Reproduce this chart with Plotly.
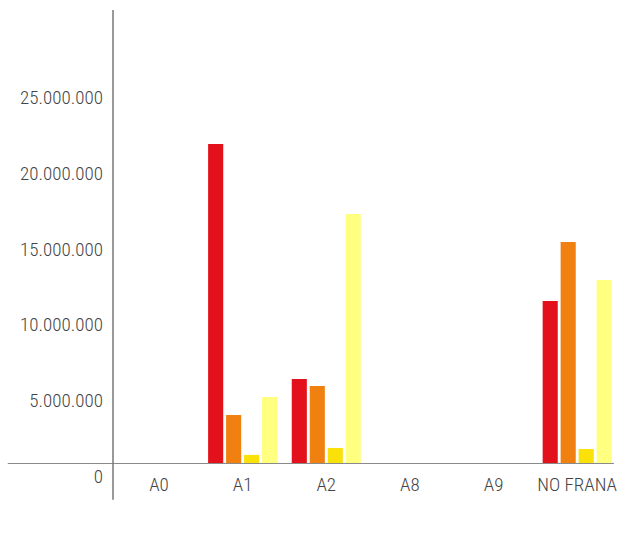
import plotly.graph_objects as go

categories = ["A0", "A1", "A2", "A8", "A9", "NO FRANA"]
series_names = ["Serie 1", "Serie 2", "Serie 3", "Serie 4"]
series_colors = ["#E3111B", "#F08010", "#FAE10A", "#FFFF80"]
serie_1 = [0, 21150000, 5620000, 0, 0, 10770000]
serie_2 = [0, 3240000, 5160000, 0, 0, 14670000]
serie_3 = [0, 600000, 1060000, 0, 0, 990000]
serie_4 = [0, 4430000, 16520000, 0, 0, 12160000]
tick_values = [0, 5000000, 10000000, 15000000, 20000000, 25000000]
tick_labels = ["0", "5.000.000", "10.000.000", "15.000.000", "20.000.000", "25.000.000"]

FONT = "Roboto Condensed, DejaVu Sans Condensed, sans-serif"
TEXT_COLOR = "#444444"
tick_font = dict(family=FONT, size=19, color=TEXT_COLOR, weight=300)

fig = go.Figure()
for name, color, values in zip(series_names, series_colors,
                               [serie_1, serie_2, serie_3, serie_4]):
    fig.add_trace(go.Bar(x=categories, y=values, name=name,
                         marker=dict(color=color, line=dict(width=0))))

fig.update_layout(
    width=627, height=542,
    margin=dict(l=113, r=8, t=10, b=78),
    paper_bgcolor="white", plot_bgcolor="white",
    barmode="group", bargap=0.14, bargroupgap=0.16,
    showlegend=False,
    font=dict(family=FONT, color=TEXT_COLOR, size=19),
)
fig.update_xaxes(
    range=[-0.55, 5.5], showgrid=False, zeroline=False, showline=False,
    ticks="", tickfont=tick_font, ticklabelstandoff=7,
)
fig.update_yaxes(
    range=[0, 30000000], showgrid=False, zeroline=False, showline=False,
    tickvals=tick_values, ticktext=tick_labels, ticks="",
    tickfont=tick_font, ticklabelshift=12, ticklabelstandoff=9,
)

# crossing axis lines
fig.add_shape(type="line", xref="paper", yref="y", x0=-0.208, x1=0.99, y0=0, y1=0,
              line=dict(color="#8a8a8a", width=2), layer="above")
fig.add_shape(type="line", xref="paper", yref="paper", x0=0, x1=0, y0=1, y1=-0.079,
              line=dict(color="#777777", width=1.5), layer="above")

fig.write_html("out.html")
